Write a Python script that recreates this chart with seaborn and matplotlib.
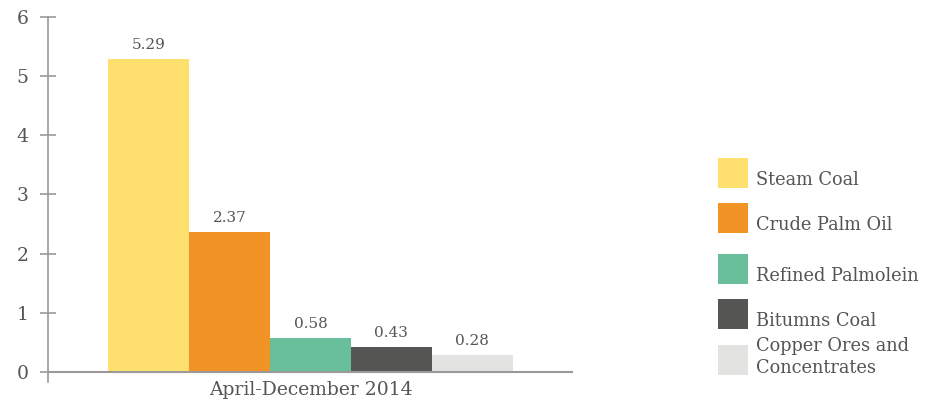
import matplotlib
matplotlib.use("Agg")
import matplotlib.pyplot as plt
import seaborn as sns
import pandas as pd
from matplotlib.patches import Rectangle

categories = ["Steam Coal", "Crude Palm Oil", "Refined Palmolein", "Bitumns Coal", "Copper Ores and\nConcentrates"]
values = [5.29, 2.37, 0.58, 0.43, 0.28]
period = ["April-December 2014"]
colors = ["#FFE06E", "#F29325", "#69BE9C", "#555553", "#E3E3E1"]
yticks = [0, 1, 2, 3, 4, 5, 6]

sns.set_style("white")
plt.rcParams["font.family"] = ["DejaVu Serif"]
text_color = "#555555"
axis_color = "#9a9a9a"

df = pd.DataFrame({"period": period * len(categories), "item": categories, "value": values})

fig = plt.figure(figsize=(9.35, 4.05), dpi=100)
ax = fig.add_axes([48 / 935, (405 - 382) / 405, (573 - 48) / 935, (382 - 17) / 405])

sns.barplot(data=df, x="period", y="value", hue="item", hue_order=categories,
            palette=colors, width=0.77, saturation=1, ax=ax, legend=False, linewidth=0)

ax.set_xlim(-0.5, 0.5)
ax.set_ylim(-0.17, 6)
ax.set_yticks(yticks)
ax.set_yticklabels([str(t) for t in yticks], fontsize=13.5, color=text_color)
ax.tick_params(axis="y", which="major", direction="inout", length=12, width=1.2, color=axis_color, pad=8, left=True)
ax.tick_params(axis="x", length=0, pad=-1, labelsize=13.5, labelcolor=text_color)
ax.set_xlabel("")
ax.set_ylabel("")
for s in ["top", "right", "bottom"]:
    ax.spines[s].set_visible(False)
ax.spines["left"].set_color(axis_color)
ax.spines["left"].set_linewidth(1.2)
ax.axhline(0, color=axis_color, lw=1.5, zorder=5)

for c in ax.containers:
    ax.bar_label(c, fmt="%.2f", padding=5, fontsize=11, color=text_color)

# legend
rows = [158, 203, 254, 299, 345]
for col, lab, y in zip(colors, categories, rows):
    fig.add_artist(Rectangle((718 / 935, 1 - (y + 30) / 405), 30 / 935, 30 / 405,
                             transform=fig.transFigure, facecolor=col, edgecolor="none"))
    ty = y + 22 if "\n" not in lab else y + 12
    fig.text(756 / 935, 1 - ty / 405, lab, fontsize=12.8, color=text_color,
             va="center", ha="left", linespacing=1.25)

fig.savefig("out.png", dpi=100)
